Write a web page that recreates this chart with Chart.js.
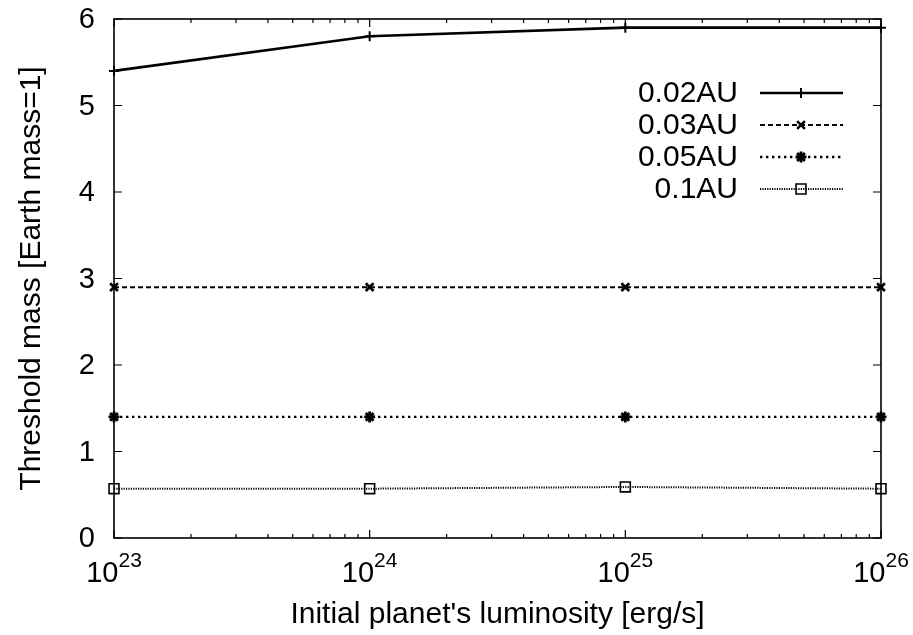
<!DOCTYPE html>
<html><head><meta charset="utf-8">
<script src="https://cdn.jsdelivr.net/npm/chart.js@4"></script>
<style>html,body{margin:0;padding:0;background:#fff}#wrap{width:913px;height:635px}</style>
</head><body><div id="wrap"><canvas id="c" width="913" height="635"></canvas></div>
<script>
const luminosity = [1e23, 1e24, 1e25, 1e26];
const seriesNames = ['0.02AU', '0.03AU', '0.05AU', '0.1AU'];
const mass002 = [5.4, 5.8, 5.9, 5.9];
const mass003 = [2.9, 2.9, 2.9, 2.9];
const mass005 = [1.4, 1.4, 1.4, 1.4];
const mass01 = [0.57, 0.57, 0.59, 0.57];
const xTickExponents = [23, 24, 25, 26];
const yTickValues = [0, 1, 2, 3, 4, 5, 6];
const xTitle = "Initial planet's luminosity [erg/s]";
const yTitle = 'Threshold mass [Earth mass=1]';

const FONT = '"Liberation Sans", Arial, Helvetica, sans-serif';
const toPts = arr => arr.map((v, i) => ({x: luminosity[i], y: v}));

const styles = [
  {borderWidth: 2.6, borderDash: [], pointStyle: 'cross', pointRadius: 5, pointBorderWidth: 2},
  {borderWidth: 2, borderDash: [5, 3], pointStyle: 'crossRot', pointRadius: 5.5, pointBorderWidth: 2.6},
  {borderWidth: 2.4, borderDash: [2.4, 3.6], pointStyle: 'star', pointRadius: 5.5, pointBorderWidth: 2.8},
  {borderWidth: 2, borderDash: [1.2, 1.2], pointStyle: 'rect', pointRadius: 7, pointBorderWidth: 1.6}
];
const seriesData = [mass002, mass003, mass005, mass01];

const datasets = seriesData.map((d, i) => Object.assign({
  label: seriesNames[i],
  data: toPts(d),
  borderColor: '#000',
  backgroundColor: 'rgba(0,0,0,0)',
  pointBackgroundColor: 'rgba(0,0,0,0)',
  pointBorderColor: '#000',
  fill: false,
  tension: 0,
  clip: false
}, styles[i]));

const framePlugin = {
  id: 'frame',
  beforeDatasetsDraw(chart) {
    const {ctx, chartArea: a, scales: {x, y}} = chart;
    ctx.save();
    ctx.strokeStyle = '#000';
    ctx.lineWidth = 1.6;
    ctx.setLineDash([]);
    ctx.strokeRect(a.left, a.top, a.right - a.left, a.bottom - a.top);
    ctx.lineWidth = 1.2;
    ctx.beginPath();
    yTickValues.forEach(v => {
      const py = y.getPixelForValue(v);
      ctx.moveTo(a.left, py); ctx.lineTo(a.left + 8, py);
      ctx.moveTo(a.right, py); ctx.lineTo(a.right - 8, py);
    });
    xTickExponents.forEach(e => {
      const px = x.getPixelForValue(Math.pow(10, e));
      ctx.moveTo(px, a.bottom); ctx.lineTo(px, a.bottom - 8);
      ctx.moveTo(px, a.top); ctx.lineTo(px, a.top + 8);
    });
    for (let k = 0; k < xTickExponents.length - 1; k++) {
      for (let m = 2; m <= 9; m++) {
        const px = x.getPixelForValue(m * Math.pow(10, xTickExponents[k]));
        ctx.moveTo(px, a.bottom); ctx.lineTo(px, a.bottom - 4);
        ctx.moveTo(px, a.top); ctx.lineTo(px, a.top + 4);
      }
    }
    ctx.stroke();
    ctx.restore();
  },
  afterDraw(chart) {
    const {ctx, chartArea: a, scales: {x, y}} = chart;
    ctx.save();
    ctx.fillStyle = '#000';
    // y tick labels
    ctx.font = '29px ' + FONT;
    ctx.textAlign = 'right';
    ctx.textBaseline = 'middle';
    yTickValues.forEach(v => {
      ctx.fillText(String(v), 95, y.getPixelForValue(v) + 1);
    });
    // x tick labels with superscripts
    xTickExponents.forEach(e => {
      const px = x.getPixelForValue(Math.pow(10, e));
      ctx.font = '29px ' + FONT;
      const w1 = ctx.measureText('10').width;
      ctx.font = '21px ' + FONT;
      const w2 = ctx.measureText(String(e)).width;
      const start = px - (w1 + w2) / 2;
      ctx.textAlign = 'left';
      ctx.textBaseline = 'alphabetic';
      ctx.font = '29px ' + FONT;
      ctx.fillText('10', start, 582);
      ctx.font = '21px ' + FONT;
      ctx.fillText(String(e), start + w1, 567);
    });
    // x title
    ctx.font = '30px ' + FONT;
    ctx.textAlign = 'center';
    ctx.textBaseline = 'alphabetic';
    ctx.fillText(xTitle, (a.left + a.right) / 2, 623);
    // y title
    ctx.save();
    ctx.translate(40, (a.top + a.bottom) / 2);
    ctx.rotate(-Math.PI / 2);
    ctx.fillText(yTitle, 0, 0);
    ctx.restore();
    // legend
    chart.data.datasets.forEach((ds, i) => {
      const ly = 93 + 32 * i;
      ctx.font = '30px ' + FONT;
      ctx.textAlign = 'right';
      ctx.textBaseline = 'middle';
      ctx.fillStyle = '#000';
      ctx.fillText(ds.label, 738, ly + 1);
      ctx.strokeStyle = '#000';
      ctx.lineWidth = ds.borderWidth;
      ctx.setLineDash(ds.borderDash);
      ctx.beginPath();
      ctx.moveTo(760, ly); ctx.lineTo(843, ly);
      ctx.stroke();
      ctx.setLineDash([]);
      ctx.lineWidth = ds.pointBorderWidth;
      ctx.fillStyle = 'rgba(0,0,0,0)';
      Chart.helpers.drawPoint(ctx, {pointStyle: ds.pointStyle, radius: ds.pointRadius, rotation: 0, borderWidth: ds.pointBorderWidth}, 801, ly);
    });
    ctx.restore();
  }
};

new Chart(document.getElementById('c'), {
  type: 'line',
  data: {datasets},
  options: {
    responsive: false,
    animation: false,
    devicePixelRatio: 1,
    layout: {padding: {top: 19, right: 32, left: 0, bottom: 0}},
    plugins: {legend: {display: false}, tooltip: {enabled: false}},
    scales: {
      x: {
        type: 'logarithmic', min: 1e23, max: 1e26, position: 'bottom',
        grid: {display: false, drawTicks: false}, border: {display: false},
        ticks: {display: false},
        afterFit(s) { s.height = 97; }
      },
      y: {
        type: 'linear', min: 0, max: 6, position: 'left',
        grid: {display: false, drawTicks: false}, border: {display: false},
        ticks: {display: false, stepSize: 1},
        afterFit(s) { s.width = 114; }
      }
    }
  },
  plugins: [framePlugin]
});
</script>
</body></html>
